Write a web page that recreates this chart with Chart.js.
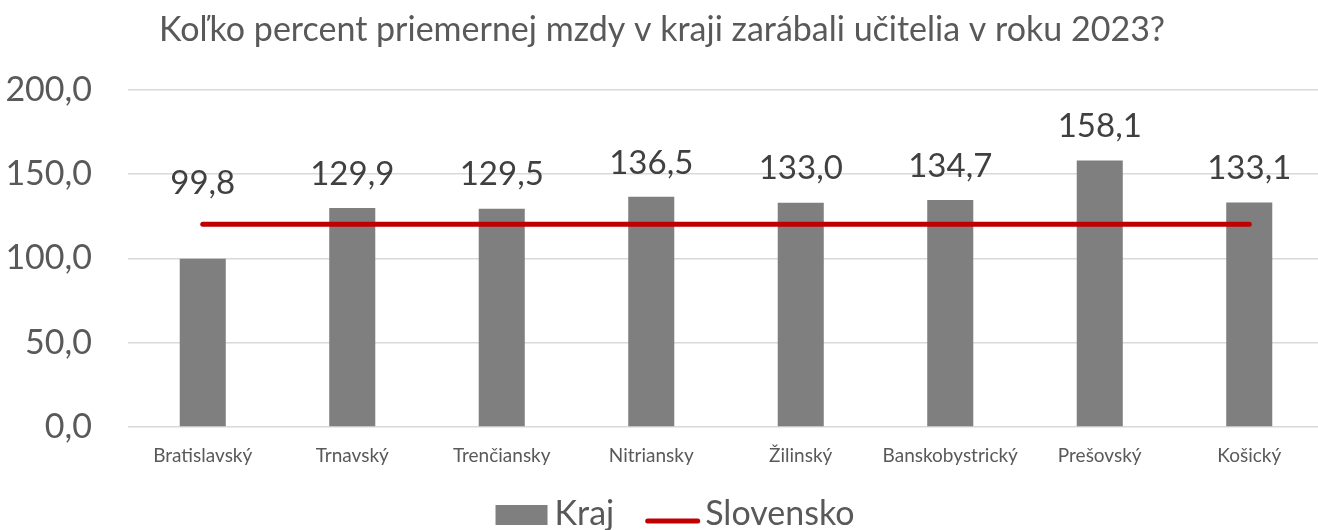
<!DOCTYPE html>
<html>
<head>
<meta charset="utf-8">
<script src="https://cdn.jsdelivr.net/npm/chart.js@4.4.1/dist/chart.umd.min.js"></script>
<style>
  html, body { margin: 0; padding: 0; background: #ffffff; overflow: hidden; }
  #wrap { width: 1324px; height: 530px; position: relative; }
</style>
</head>
<body>
<div id="wrap"><canvas id="c" width="1324" height="530"></canvas></div>
<script>
// ---- data ----
const chartTitle = 'Koľko percent priemernej mzdy v kraji zarábali učitelia v roku 2023?';
const categories = ['Bratislavský', 'Trnavský', 'Trenčiansky', 'Nitriansky', 'Žilinský', 'Banskobystrický', 'Prešovský', 'Košický'];
const krajValues = [99.8, 129.9, 129.5, 136.5, 133.0, 134.7, 158.1, 133.1];
const slovenskoValues = [120.2, 120.2, 120.2, 120.2, 120.2, 120.2, 120.2, 120.2];
const seriesNames = ['Kraj', 'Slovensko'];
const yTicks = [0, 50, 100, 150, 200];

const FONT = 'Lato, "Open Sans", "DejaVu Sans", sans-serif';
const fmt = v => v.toFixed(1).replace('.', ',');

// data labels above bars (moved above the national line when they would collide)
const barLabels = {
  id: 'barLabels',
  afterDatasetsDraw(chart) {
    const ctx = chart.ctx;
    const barMeta = chart.getDatasetMeta(0);
    const lineMeta = chart.getDatasetMeta(1);
    ctx.save();
    ctx.font = '33px ' + FONT;
    ctx.fillStyle = '#404040';
    ctx.textAlign = 'center';
    ctx.textBaseline = 'middle';
    barMeta.data.forEach((bar, i) => {
      let y = bar.y - 34;
      const ly = lineMeta.data[i] ? lineMeta.data[i].y : null;
      if (ly !== null && Math.abs(y - ly) < 25) y = ly - 41;
      ctx.fillText(fmt(chart.data.datasets[0].data[i]), bar.x, y);
    });
    ctx.restore();
  }
};

// legend drawn from the datasets
const customLegend = {
  id: 'customLegend',
  afterDraw(chart, args, opts) {
    const ctx = chart.ctx;
    const ds = chart.data.datasets;
    ctx.save();
    ctx.font = opts.fontSize + 'px ' + FONT;
    ctx.textBaseline = 'alphabetic';
    const w0 = ctx.measureText(ds[0].label).width;
    const w1 = ctx.measureText(ds[1].label).width;
    const total = 52 + 7 + w0 + 31 + 55 + 5 + w1;
    let x = opts.centerX - total / 2;
    const base = opts.baseline;
    ctx.fillStyle = ds[0].backgroundColor;
    ctx.fillRect(x, base - 20, 52, 20);
    x += 52 + 7;
    ctx.fillStyle = '#595959';
    ctx.fillText(ds[0].label, x, base);
    x += w0 + 31;
    ctx.strokeStyle = ds[1].borderColor;
    ctx.lineWidth = 5;
    ctx.lineCap = 'round';
    ctx.beginPath();
    ctx.moveTo(x + 2.5, base - 4);
    ctx.lineTo(x + 52.5, base - 4);
    ctx.stroke();
    x += 55 + 5;
    ctx.fillStyle = '#595959';
    ctx.fillText(ds[1].label, x, base);
    ctx.restore();
  }
};

new Chart(document.getElementById('c'), {
  data: {
    labels: categories,
    datasets: [
      {
        type: 'bar',
        label: seriesNames[0],
        data: krajValues,
        backgroundColor: '#7f7f7f',
        borderWidth: 0,
        barPercentage: 0.308,
        categoryPercentage: 1.0,
        order: 2
      },
      {
        type: 'line',
        label: seriesNames[1],
        data: slovenskoValues,
        borderColor: '#c00000',
        backgroundColor: '#c00000',
        borderWidth: 5,
        borderCapStyle: 'round',
        pointRadius: 0,
        pointHoverRadius: 0,
        fill: false,
        tension: 0,
        order: 1
      }
    ]
  },
  options: {
    responsive: false,
    animation: false,
    devicePixelRatio: 1,
    layout: { padding: { left: 0, right: 0, top: 0, bottom: 0 } },
    plugins: {
      legend: { display: false },
      tooltip: { enabled: false },
      title: {
        display: true,
        text: chartTitle,
        color: '#595959',
        font: { family: FONT, size: 34, weight: 'normal', lineHeight: 1.2 },
        padding: { top: 10, bottom: 39 }
      },
      customLegend: { centerX: 675, baseline: 525, fontSize: 34 }
    },
    scales: {
      x: {
        grid: { display: false, drawTicks: false },
        border: { display: false },
        ticks: {
          color: '#595959',
          font: { family: FONT, size: 19 },
          padding: 17,
          maxRotation: 0,
          autoSkip: false
        },
        afterFit(scale) { scale.height = 103; }
      },
      y: {
        min: 0,
        max: 200,
        afterBuildTicks(scale) { scale.ticks = yTicks.map(v => ({ value: v })); },
        grid: { color: '#d9d9d9', lineWidth: 1.5, drawTicks: false },
        border: { display: false },
        ticks: {
          color: '#595959',
          font: { family: FONT, size: 34 },
          padding: 36,
          callback: v => fmt(v)
        },
        afterFit(scale) { scale.width = 128; }
      }
    }
  },
  plugins: [barLabels, customLegend]
});
</script>
</body>
</html>
